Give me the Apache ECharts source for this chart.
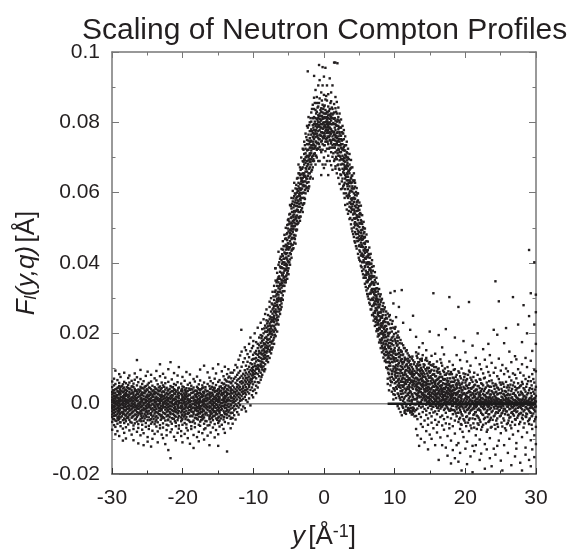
<!DOCTYPE html>
<html><head><meta charset="utf-8">
<style>html,body{margin:0;padding:0;background:#fff}#c{width:571px;height:550px}</style>
<script src="https://cdn.jsdelivr.net/npm/echarts@6/dist/echarts.min.js"></script>
</head><body><div id="c"></div>
<script>
const xTickLabels=['-30','-20','-10','0','10','20','30'];
const yTickLabels=['-0.02','0.0','0.02','0.04','0.06','0.08','0.1'];
const chartTitle='Scaling of Neutron Compton Profiles';
// each row: y [1/A], then F values in units of 1e-4 A
const leftTailRows=[
[-29.97,-52,-38,-31,-22,-14,-9,-3,4,11,18,26,33,47,63,-74],
[-29.71,-61,-44,-27,-18,-6,2,7,15,22,29,38,52,71,-35,-11],
[-29.52,-48,-33,-24,-16,-8,-1,5,13,20,31,41,56,-66,94,-87],
[-29.23,-57,-41,-29,-12,-4,3,9,17,24,36,45,67,-78,-20],
[-28.98,-43,-36,-21,-15,-7,1,8,12,27,34,50,59,84,-92],
[-28.79,-64,-39,-26,-11,-3,6,10,19,28,37,48,76,-53],
[-28.46,-47,-30,-23,-13,-5,4,14,21,32,43,55,-71,-105],
[-28.27,-55,-42,-28,-17,-9,0,7,16,25,35,46,62,88,-83],
[-28.03,-50,-34,-19,-10,-2,5,11,23,30,39,58,-67,-99],
[-27.71,-59,-37,-25,-14,-6,2,9,18,26,44,53,73,-40],
[-27.54,-46,-32,-20,-12,-3,6,13,22,33,41,60,80,-76],
[-27.22,-54,-40,-27,-16,-7,1,10,17,29,38,49,65,-88],
[-26.96,-62,-35,-22,-9,-1,8,15,24,31,47,57,-72,-104],
[-26.78,-45,-31,-18,-11,-4,3,12,20,36,42,68,86,-56],
[-26.47,-51,-38,-24,-13,-5,7,16,27,34,52,75,124,-80],
[-26.28,-58,-33,-26,-15,-8,0,9,19,28,40,61,-69,-113],
[-25.97,-43,-29,-21,-10,-2,4,14,23,37,48,70,96,-90],
[-25.73,-60,-41,-28,-17,-6,6,11,25,32,45,56,-74],
[-25.53,-49,-36,-19,-12,-3,2,13,21,30,43,64,-84,-118],
[-25.22,-55,-34,-23,-14,-7,5,10,18,35,50,79,-66],
[-24.96,-47,-30,-25,-11,-1,8,17,26,39,54,91,-95,-108],
[-24.79,-63,-39,-20,-9,-4,3,12,22,33,46,59,-72],
[-24.47,-44,-32,-27,-16,-5,7,15,29,41,63,82,-57,-122],
[-24.28,-52,-37,-22,-13,0,9,19,24,36,51,-77,-100],
[-23.97,-58,-28,-18,-10,-6,4,11,27,34,47,72,-86],
[-23.72,-46,-35,-24,-15,-2,6,14,20,31,42,66,93,-65],
[-23.53,-53,-40,-26,-8,-3,10,16,28,38,55,-79,-110],
[-23.21,-61,-31,-21,-12,1,5,13,23,37,49,78,112,-70],
[-22.97,-42,-33,-19,-14,-7,8,18,25,32,44,60,-88],
[-22.78,-56,-38,-25,-11,-4,2,12,21,35,52,85,-68,-98],
[-22.46,-48,-29,-17,-9,0,7,15,26,40,58,74,-115],
[-22.27,-60,-36,-23,-13,-5,3,11,19,30,45,-75,-90],
[-22.03,-45,-34,-20,-10,-2,9,16,27,39,62,98,-62,-132],
[-21.72,-51,-30,-26,-15,-6,4,13,22,33,50,118,-81,-155],
[-21.54,-57,-41,-18,-8,1,6,17,24,36,47,69,-73],
[-21.22,-43,-32,-22,-12,-3,10,14,29,41,56,87,-94],
[-20.97,-54,-37,-24,-16,-1,5,12,20,34,53,-64,-104],
[-20.72,-47,-28,-19,-9,-4,8,18,26,38,61,80,-83],
[-20.54,-62,-35,-21,-11,2,7,15,23,31,46,104,-71],
[-20.21,-50,-39,-25,-13,-6,3,11,28,37,57,-78,-92],
[-20.03,-44,-31,-17,-10,0,9,16,21,35,49,76,-60,-110],
[-19.72,-55,-33,-23,-14,-5,4,13,25,40,65,-86],
[-19.47,-59,-38,-20,-8,-2,6,19,27,32,44,90,-69],
[-19.28,-46,-29,-26,-12,1,10,14,22,36,54,-76,-98],
[-18.97,-52,-36,-18,-9,-3,5,12,24,39,59,83,-114],
[-18.78,-64,-34,-22,-15,-7,7,17,30,42,51,-72],
[-18.46,-48,-30,-24,-11,0,8,15,20,33,46,70,-89,-126],
[-18.27,-56,-40,-19,-13,-4,3,11,26,37,63,-67],
[-17.97,-43,-32,-21,-10,2,9,18,28,35,48,77,-95],
[-17.72,-60,-37,-25,-6,-1,6,13,23,41,55,-80,-107],
[-17.53,-51,-28,-17,-12,4,10,16,31,38,66,97,-63],
[-17.22,-45,-35,-23,-14,-5,5,19,25,44,52,-84],
[-16.97,-57,-39,-20,-8,1,7,12,29,34,60,108,-73,-102],
[-16.78,-49,-31,-26,-11,-3,8,15,22,40,47,-70],
[-16.47,-62,-33,-18,-9,0,11,17,27,36,56,89,-91],
[-16.21,-44,-38,-22,-13,-6,4,14,24,32,50,74,-61,-118],
[-16.04,-53,-29,-24,-10,2,9,20,30,43,64,-82],
[-15.72,-47,-36,-19,-15,-2,6,13,26,39,58,100,-68],
[-15.47,-58,-34,-21,-7,3,12,18,33,45,71,-96],
[-15.28,-42,-30,-25,-12,-1,8,16,23,37,53,86,-75],
[-14.97,-55,-40,-17,-9,5,10,21,28,41,62,112,-87,-120],
[-14.78,-48,-27,-22,-4,7,14,19,35,48,67,-65],
[-14.46,-60,-33,-15,-6,2,11,24,31,44,59,92],
[-14.22,-45,-37,-20,-8,4,13,18,27,40,55,78,-72],
[-14.03,-52,-29,-12,-3,6,15,22,34,47,69,105,-83],
[-13.72,-40,-31,-18,-5,8,12,25,30,42,63,84,-136],
[-13.53,-56,-24,-10,0,9,17,28,38,51,74,98],
[-13.21,-43,-27,-14,-2,7,19,23,36,46,60,88,-70]
];
const leftCoreRows=[
[-29.85,-27,12,-44,31,-8,38,-19,6],[-29.38,7,-34,24,-15,42,-49,-2,19],[-29.1,-25,33,-10,16,-38,46,3,-46],
[-28.88,14,-29,41,-17,26,-4,-53,30],[-28.6,-36,9,-12,35,-24,18,50,-1],[-28.12,21,-45,-7,40,-20,13,-33,28],
[-27.88,-15,36,-41,4,24,-28,11,47],[-27.4,-30,15,-6,43,-52,28,-18,8],[-27.1,32,-12,-37,19,-3,49,-24,6],
[-26.62,-19,25,-43,10,38,-8,-31,17],[-26.12,40,-26,3,-48,21,-14,33,-5],[-25.85,-9,16,-35,44,-22,27,-50,7],
[-25.38,30,-42,12,-16,37,-29,2,48],[-25.1,-21,8,-38,23,-5,41,-13,19],[-24.62,14,-47,32,-11,-28,6,45,24],
[-24.12,-34,20,-3,38,-17,-44,10,29],[-23.85,43,-23,5,-39,16,-9,31,-51],[-23.38,-13,26,-30,8,46,-20,35,-2],
[-23.1,18,-36,41,-6,24,-46,11,-16],[-22.62,-27,4,33,-41,15,-10,48,22],[-22.12,37,-18,-32,9,-47,26,-1,13],
[-21.85,-6,30,-24,42,-38,17,5,-14],[-21.38,23,-43,10,-20,35,-2,-29,47],[-21.1,-35,14,-9,28,-50,39,1,-17],
[-20.62,6,-26,44,-40,19,-12,31,-4],[-20.12,-21,36,-33,12,-7,24,-46,41],[-19.85,29,-15,3,-37,47,-25,9,18],
[-19.6,-44,21,-11,34,-3,-30,14,38],[-19.1,10,-27,43,-19,-48,5,26,-8],[-18.62,-36,17,-1,31,-23,40,-12,-52],
[-18.12,25,-41,8,-16,37,-5,-32,20],[-17.85,-13,44,-29,13,-45,2,30,-20],[-17.38,-7,19,-38,27,41,-24,6,-47],
[-17.1,33,-18,-42,11,-2,46,-31,22],[-16.62,-26,7,35,-14,-50,24,-6,15],[-16.12,18,-34,42,-21,4,-9,29,-44],
[-15.85,-16,31,-28,9,48,-40,-3,23],[-15.6,38,-11,-35,20,-24,3,45,-7],[-15.12,-30,12,-46,28,-4,36,-19,8],
[-14.88,41,-21,6,-37,16,30,-13,-50],[-14.6,-9,26,-33,49,-18,2,37,-42],[-14.12,15,-25,43,-6,32,-38,9,57],
[-13.85,-22,35,4,-30,52,-12,20,66],[-13.4,28,-35,46,10,-8,62,-19,77],[-13.12,-26,41,-5,16,58,-40,30,72]
];
const peakRows=[
[-12.93,-41,17,3,38,-12,64,29,-26,88,9,51,-57],
[-12.71,22,-33,46,71,-7,13,95,-19,34,5],
[-12.52,8,41,-45,27,59,-15,110,33,-2,76,18],
[-12.28,55,12,-24,37,82,-6,24,47,103,66],
[-12.09,-31,43,19,70,2,31,125,52,-11,88,28],
[-11.87,61,15,-4,39,93,26,48,74,8,137],
[-11.66,33,-17,57,105,22,79,41,10,64,148],
[-11.43,72,28,49,-8,35,118,85,14,60,44],
[-11.21,19,66,95,38,-13,54,129,80,31,160],
[-11.04,47,88,10,61,152,26,73,39,108,-22],
[-10.82,83,34,56,119,5,67,42,98,141,74],
[-10.6,29,90,62,170,48,105,77,15,132,53],
[-10.41,71,115,39,58,96,-5,84,149,66,188],
[-10.2,101,46,80,63,125,24,92,158,70,112],
[-10.03,55,127,88,36,74,164,104,96,18,139,82],
[-9.81,114,62,93,145,40,107,76,200,128,85],
[-9.6,72,130,98,51,120,175,87,106,150,30,142],
[-9.38,139,84,110,61,158,99,216,124,46,170,103],
[-9.17,97,150,78,122,188,108,133,60,166,92,143],
[-8.96,130,173,88,145,105,230,120,68,160,195,112],
[-8.74,151,103,178,126,82,212,140,164,118,192,97],
[-8.55,116,172,143,200,95,155,128,240,182,135,106],
[-8.33,187,130,160,112,222,147,205,170,98,138,255],
[-8.14,145,204,175,122,237,158,190,134,268,165,216],
[-7.92,172,220,135,195,156,252,210,182,118,234,162],
[-7.7,228,165,198,148,275,212,184,240,130,206,290],
[-7.49,190,245,158,220,205,300,176,262,232,143,214],
[-7.28,256,210,178,282,234,196,318,245,160,222,268],
[-7.06,220,295,188,262,243,335,205,278,170,250,232],
[-6.85,305,240,210,278,258,350,225,322,192,268,385],
[-6.63,262,335,228,298,280,372,245,312,205,350,288],
[-6.44,345,270,310,248,395,292,328,225,360,302,432],
[-6.22,318,280,375,340,255,412,298,355,268,390,325],
[-6.01,352,300,408,275,372,330,440,315,388,285,345],
[-5.83,385,320,295,420,350,462,335,402,365,308,438],
[-5.6,412,345,448,378,320,395,480,360,430,335,402],
[-5.41,362,438,398,345,470,415,500,380,425,352,452],
[-5.2,465,395,372,428,508,448,410,485,385,440,355],
[-5.02,420,490,385,455,525,438,402,472,510,368,445],
[-4.81,512,445,410,478,395,540,462,495,428,565,485],
[-4.6,468,530,435,498,415,555,482,515,450,585,505],
[-4.42,545,495,440,520,470,575,505,452,535,488,605],
[-4.21,480,565,522,458,590,505,538,472,548,628,515],
[-4.03,595,512,548,478,532,612,562,495,578,525,455],
[-3.82,535,610,495,570,520,640,552,588,510,600,562],
[-3.61,628,545,590,515,575,655,605,530,618,560,680],
[-3.4,560,650,600,532,625,582,672,545,612,590,520],
[-3.22,668,585,625,550,610,700,640,570,652,598,632],
[-3.01,600,690,565,642,620,725,655,585,672,630,545],
[-2.8,655,710,585,632,680,600,745,645,618,695,570],
[-2.61,725,620,670,598,700,645,768,685,632,712,660],
[-2.4,640,738,690,615,720,660,790,705,628,750,675],
[-2.19,765,680,722,630,700,655,815,738,692,748,612],
[-2.01,695,755,640,728,672,800,712,745,655,775,688,708],
[-1.8,780,720,660,748,695,828,735,765,680,802,712],
[-1.59,705,792,745,672,770,725,850,758,690,812,735,640],
[-1.41,815,735,690,778,752,710,870,795,725,838,765],
[-1.2,758,835,705,790,732,775,892,745,812,680,768],
[-1.02,795,722,855,768,740,810,700,785,760,872,725,830],
[-0.81,742,820,775,905,800,725,788,755,845,690,812],
[-0.62,868,765,800,730,825,778,690,752,810,788,920],
[-0.39,805,745,885,772,830,795,715,762,840,650,818,785],
[-0.2,758,850,810,722,782,905,795,738,828,770,680,815],
[-0.01,825,770,735,800,878,755,812,700,788,845,762,930,670],
[0.2,790,835,718,775,812,745,865,800,760,680,825,785,955],
[0.42,745,808,862,785,725,830,770,905,795,690,815,755],
[0.6,820,760,798,705,845,778,738,812,790,880,650,770],
[0.81,772,838,800,750,690,822,785,925,762,810,728],
[1.01,805,745,860,780,715,825,768,795,740,885,678,815],
[1.2,735,795,838,760,702,812,775,905,750,822,665],
[1.43,828,772,728,795,852,750,690,810,765,970,738],
[1.62,758,805,715,778,840,735,675,795,748,872,668],
[1.81,790,720,825,755,695,770,858,738,802,655,745],
[2.03,705,780,748,815,680,760,725,842,642,790,735],
[2.2,768,692,735,800,665,745,825,715,772,625,705],
[2.41,680,752,715,785,650,728,808,695,762,610,738],
[2.62,738,668,705,770,640,722,682,790,612,750,695],
[2.81,655,720,680,752,622,700,778,665,730,598,690],
[3,708,640,675,735,610,688,760,650,720,565,668],
[3.22,625,692,655,715,590,668,745,635,700,552,678],
[3.4,675,610,645,725,585,660,625,700,540,635,592],
[3.61,590,655,618,680,560,635,710,600,665,525,572],
[3.82,642,568,605,671,545,627,583,693,510,640,557],
[4.01,552,618,583,649,522,603,672,561,629,490,584],
[4.23,598,527,574,633,501,586,541,655,474,612,552],
[4.4,516,583,541,617,488,562,628,526,594,458,507],
[4.62,566,497,536,592,471,548,613,512,573,441,528],
[4.81,483,549,506,578,463,522,598,492,556,426,472],
[5.01,531,466,502,551,436,514,572,477,539,409,451],
[5.22,446,513,471,538,421,493,563,458,522,392,486],
[5.4,494,427,466,511,402,476,536,448,494,377,421],
[5.6,408,474,436,499,382,456,517,422,484,358,403],
[5.79,454,391,429,474,365,441,498,414,458,341,388],
[6.01,371,436,401,462,347,418,481,396,436,322,366],
[6.2,416,351,389,437,328,402,461,374,421,305,348],
[6.41,334,396,361,424,312,381,444,356,401,287,334],
[6.6,376,316,354,398,295,364,426,339,381,268,313],
[6.8,298,359,326,389,277,346,408,322,364,252,298],
[7.02,339,281,316,361,258,326,391,302,344,236,279],
[7.2,264,322,291,352,241,309,374,284,326,221,258],
[7.42,304,246,282,328,224,292,358,269,308,206,244],
[7.61,231,289,258,319,208,274,341,252,291,191,226],
[7.8,274,216,249,296,194,259,326,236,276,174,212],
[8.02,201,259,228,289,178,244,311,222,261,158,199],
[8.2,244,186,222,268,164,229,298,206,246,146,182],
[8.41,174,232,201,262,151,216,286,192,234,131,169],
[8.6,219,161,196,241,138,204,274,179,221,121,156],
[8.8,138,206,171,244,118,189,262,155,221,103,147],
[9.02,201,129,166,231,98,182,256,142,194,71,118,56],
[9.2,119,173,158,226,107,160,248,131,199,84,144,38],
[9.4,181,97,139,214,66,163,238,127,172,52,108,315],
[9.6,92,170,119,205,84,137,227,148,188,34,76,61],
[9.82,143,71,133,191,44,128,216,106,166,27,98,285,12],
[10.01,83,158,104,183,37,120,213,91,149,58,25,129],
[10.2,129,61,110,172,74,95,246,139,47,16,88,201],
[10.42,64,141,87,168,29,123,194,106,52,-7,79,178],
[10.6,133,48,97,159,22,116,188,71,144,-14,58,275],
[10.83,45,122,78,152,11,93,181,64,107,-24,36,139],
[11.01,118,36,87,148,-3,69,171,52,127,-33,104,19],
[11.2,29,99,62,140,8,81,166,48,118,-12,74,230],
[11.41,105,18,71,131,-21,43,158,88,57,-26,124,3],
[11.6,22,83,56,126,-8,96,149,38,109,-29,67],
[11.83,94,9,47,121,-20,62,143,77,28,-18,106],
[12,15,72,41,117,-17,89,137,53,101,-14,31],
[12.2,86,-4,58,109,-25,36,133,68,20,-20,97,210],
[12.42,6,66,27,104,-31,78,128,46,90,-24,11],
[12.6,75,-11,42,99,-18,55,123,19,62,-30,85,250],
[12.81,-2,57,30,93,-22,71,118,13,49,-36,84]
];
const flankExtraRows=[
[-8.85,141,108,186,162,76],[-8.45,128,214,168,151,92],[-8.05,183,126,228,149,205],[-7.65,248,152,202,176,222],
[-7.4,171,285,238,198,154],[-7.15,272,205,182,305,238],[-6.95,214,262,318,196,285],[-6.72,345,252,291,236,310],
[-6.53,275,355,318,238,296],[-6.33,298,362,262,402,334],[-6.12,386,292,338,268,418],[-5.92,342,425,365,296,398],
[-5.72,448,372,335,412,358],[-5.5,395,468,352,428,384],[-5.3,415,482,365,446,392],[-5.11,498,405,456,378,522],
[-4.91,442,518,475,402,538],[-4.7,528,455,492,425,562],[-4.52,472,568,512,438,545],[-4.32,558,498,442,530,584],
[-4.12,505,598,468,546,572],[-3.92,622,528,492,584,548],[-3.72,578,512,642,550,604],[-3.5,528,612,568,655,596],
[-3.31,642,578,532,608,665],[-3.11,598,668,556,635,612],[-2.9,688,622,568,650,722],[-2.7,608,692,648,735,582],
[-2.5,758,668,612,702,640],[-2.29,722,648,785,682,605],[-2.1,668,738,792,618,705],[-1.9,745,688,812,728,645],
[-1.7,702,775,728,838,665],[-1.5,785,738,695,812,758],[-1.3,728,802,768,855,712],[-1.11,778,745,825,705,795],
[-0.91,805,762,725,842,788],[-0.71,752,818,792,738,855],[-0.5,835,785,762,808,722],[-0.3,772,818,748,795,862],
[-0.1,798,755,838,782,812],[0.1,815,768,792,848,735],[0.31,778,825,752,802,875],[0.51,802,745,828,775,812],
[0.71,758,795,832,725,785],[0.91,818,782,748,855,768],[1.11,775,812,728,795,842],[1.32,752,798,825,712,772],
[1.52,785,728,812,695,765],[1.71,738,792,702,830,762],[1.92,772,712,808,745,678],[2.12,722,785,668,752,805],
[2.32,762,702,735,652,785],[2.52,695,748,725,632,772],[2.72,725,658,768,695,618],[2.92,672,735,628,698,585],
[3.12,705,645,598,672,735],[3.32,618,685,568,652,712],[3.52,662,595,628,548,695],[3.72,605,572,668,632,528],
[3.92,648,552,612,498,578],[4.12,538,612,568,635,482],[4.32,582,512,635,548,462],[4.52,528,602,482,558,448],
[4.72,575,462,508,532,598],[4.92,448,532,488,562,415],[5.12,512,405,468,542,432],[5.32,478,425,518,388,452],
[5.52,445,502,368,418,468],[5.71,402,472,358,435,488],[5.91,445,358,412,378,332],[6.11,398,345,432,312,372],
[6.31,368,425,298,352,402],[6.51,338,385,415,282,362],[6.71,372,268,398,322,342],[6.91,345,252,378,295,318],
[7.11,312,362,248,285,338],[7.31,272,345,232,298,318],[7.51,298,238,328,265,212],[7.71,258,312,198,282,225],
[7.91,282,182,238,305,212],[8.11,218,268,172,248,295],[8.31,198,278,228,158,252],[8.51,235,142,268,188,212],
[8.71,168,252,125,208,232],[8.91,212,102,178,242,148],[9.11,162,228,88,135,192],[9.31,202,115,148,252,74],
[9.51,128,182,62,215,155],[9.71,178,92,235,118,148],[9.91,68,125,198,152,42],[10.11,142,78,178,102,218],
[10.31,98,165,42,122,188],[10.51,152,68,112,28,205],[10.71,86,132,52,172,16],[10.91,125,62,148,28,96],
[11.11,72,138,38,112,-8],[11.31,52,118,82,158,14],[11.51,92,32,128,62,-18],[11.71,112,42,78,152,-2],
[11.91,68,24,102,128,-12],[12.11,48,92,8,122,72],[12.31,112,32,62,-12,85],[12.51,24,92,52,134,-20],[12.71,82,12,64,112,-14]
];
const rightTailRows=[
[13.03,41,-18,88,12,-72,63,28,146,-2,107,52,-35,190,74],
[13.22,-44,26,95,6,57,-90,130,38,-14,71,17,112,48],
[13.46,81,3,44,-29,118,60,-120,22,97,-6,36,160,68],
[13.71,-11,54,20,125,-58,33,86,5,70,-38,102,42,-100],
[13.97,66,-24,15,92,30,-8,48,138,-66,78,25,56,172],
[14.23,9,40,-48,76,-15,110,26,62,-110,84,18,35],
[14.47,52,-3,94,-32,22,70,-78,130,10,44,-20,60,152],
[14.72,-42,28,64,5,100,-12,38,-130,80,16,48,-60],
[14.96,74,13,-27,42,-6,88,24,118,55,-88,2,34,205],
[15.22,-16,58,30,-54,96,8,44,-36,72,20,-100,136],
[15.48,38,-9,66,18,-25,50,84,-70,4,28,112,314],
[15.73,12,-46,34,78,-2,56,-22,24,142,-118,62,8],
[15.99,48,-30,6,92,26,-12,68,15,-82,40,120,-60],
[16.23,-6,36,-52,58,16,100,-20,72,3,30,195,-160],
[16.47,22,64,-14,42,-38,8,84,-96,50,-4,126],
[16.72,-34,10,52,-8,28,76,-62,18,108,38,-118,160],
[16.98,44,-18,2,68,-44,24,90,12,-74,34,140],
[17.24,-26,56,14,-4,82,30,-56,6,48,212,-125],
[17.48,18,-38,72,26,-12,44,-92,4,104,60,-148],
[17.74,-2,36,-58,10,56,-20,28,84,-70,120,303],
[17.97,62,-14,22,-42,6,46,-105,16,90,34,-170],
[18.23,-30,12,52,-6,74,24,-64,38,8,110,-132],
[18.52,40,-22,2,66,-48,16,30,-85,98,188,-155],
[18.77,-10,26,-36,48,6,82,-16,58,12,138,-118],
[19.02,20,-52,34,-4,64,-26,10,-112,92,275,-165],
[19.26,-18,44,4,-40,24,78,-8,52,-72,124,-140],
[19.47,32,-6,14,-30,56,-60,22,100,40,-190],
[19.74,-44,8,68,-14,28,-2,48,-95,86,178],
[20.01,16,-24,42,2,-54,84,-10,26,60,146,-128],
[20.24,-4,30,-36,12,70,-18,-108,50,20,120,-172],
[20.52,36,-12,6,54,-28,18,-78,94,-46,289],
[20.73,-20,24,-2,44,-62,10,74,-8,32,108,-150],
[21.02,8,-42,30,-16,62,2,-120,46,16,165,-195],
[21.26,-30,18,-6,52,22,-68,88,-14,36,-135],
[21.48,40,-10,4,-24,66,12,-90,28,130,-118],
[21.74,-36,14,-2,32,-56,50,6,82,-18,200],
[22.03,22,-18,2,44,-46,10,70,-102,30,112,-160],
[22.24,-8,36,-26,6,58,-74,16,98,-142],
[22.52,14,-32,52,0,-12,28,86,-60,6,155],
[22.76,-14,4,42,-40,24,-115,10,74,125,-185],
[23.03,30,-22,8,60,-4,18,-80,105,-130],
[23.26,-10,2,34,-52,14,90,-30,50,170],
[23.47,18,-46,6,48,-16,26,-98,80,0,138,-155],
[23.72,-24,8,36,-4,66,-66,14,116,-178],
[24.02,2,-36,28,-10,50,12,-128,88,210],
[24.26,-6,18,-28,56,4,-72,32,102,348,-145],
[24.52,26,-14,8,-42,46,1,-58,78,196,-120],
[24.74,-20,4,40,-2,70,12,-105,128,291],
[25.02,10,-34,30,-8,54,2,-84,94,-162],
[25.24,-26,18,-4,60,6,-65,36,110,-190],
[25.49,26,-14,0,48,-48,10,-118,84,172],
[25.76,-22,6,34,-2,-76,16,62,100,215],
[26.02,12,-32,28,-9,52,2,-55,92,-140],
[26.23,-16,4,46,-40,8,24,-100,76,148],
[26.51,16,-6,36,-26,4,66,-70,118,-175],
[26.74,-30,12,2,52,-11,28,-88,86,303],
[27.03,24,-18,-2,48,-44,10,-60,82,135,-150],
[27.22,-5,40,6,-24,18,72,-112,126,-128],
[27.47,14,-34,32,2,-12,58,-78,98,225],
[27.77,-28,26,4,-8,50,12,-52,88,-168],
[28.02,10,-16,30,-1,62,-40,-95,112,175,-190],
[28.24,-22,6,44,-4,20,80,-68,280],
[28.52,14,-36,2,34,-10,70,-125,130,-145],
[28.73,-14,26,8,-30,56,-2,-82,104,200],
[29.02,12,-20,38,0,-46,76,-58,249,437,-160],
[29.26,-6,30,4,-26,64,16,-104,122,314,-178],
[29.47,10,-12,42,-1,-34,84,-72,150,-130],
[29.76,-18,28,2,-50,14,60,-90,96,225,402,-152],
[29.98,6,-8,48,22,-38,92,-66,170,260,310,-115]
];
const rightCoreRows=[
[13.12,72,24,101,48,55,136,38,88,14],[13.35,108,84,46,118,21,66,30,142,58],[13.6,58,110,18,92,78,34,94,126,42],
[13.84,28,72,122,96,50,10,128,64,84],[14.1,88,104,42,24,62,112,20,76,52],[14.35,34,10,76,52,14,98,124,60,40],
[14.6,66,18,36,44,122,4,86,102,56],[14.84,18,56,30,102,8,74,92,46,114],[15.1,92,12,22,40,64,24,110,78,-6],
[15.35,48,32,6,82,18,108,-8,58,70],[15.6,14,62,26,94,48,36,2,84,104],[15.86,78,20,-6,50,28,104,10,66,40],
[16.1,4,44,-12,70,30,18,88,56,98],[16.35,62,14,26,38,90,-2,50,76,8],[16.6,-10,28,76,6,52,34,116,44,64],
[16.85,34,42,58,16,-4,94,22,70,10],[17.1,22,8,42,70,56,26,100,-14,82],[17.36,54,-8,20,86,32,2,36,66,12],
[17.6,40,30,6,64,-16,44,92,18,52],[17.85,12,72,24,40,50,2,26,-20,84],[18.1,-6,50,20,36,84,8,62,28,-18],
[18.36,30,-18,62,4,46,96,16,38,72],[18.64,-28,10,42,76,-8,24,54,30,4],[18.9,54,-4,28,32,14,68,-26,44,8],
[19.14,-12,36,2,58,-44,20,88],[19.36,8,-24,46,16,72,-58,-2],[19.6,-34,26,60,-10,4,38,-80],
[19.86,44,-20,12,76,-48,30,-2],[20.12,-8,22,52,-38,6,66,-64],[20.38,32,-16,2,44,-54,18,82],
[20.62,-26,12,58,-6,34,-42,90],[20.86,6,42,-18,24,-70,68,-2],[21.14,-12,28,2,48,-32,76,-56],
[21.38,20,-24,54,8,-44,36,-4],[21.62,-6,14,40,-34,62,-72,4],[21.88,26,-14,6,50,-40,18,-60],
[22.14,-20,10,34,-4,68,-52,24],[22.38,4,42,-30,16,-8,56,-66],[22.64,-16,24,2,-44,36,72,-6],
[22.9,12,-26,46,6,-56,20,-2],[23.14,-8,30,-18,4,52,-38,-74],[23.38,18,-30,8,38,-6,64,-50],
[23.6,-12,2,26,-40,14,48,-68],[23.86,6,-20,32,-2,58,-46,18],[24.14,-14,22,-34,8,42,-60,0],
[24.38,10,-6,34,-24,52,-48,16],[24.62,-2,-26,14,44,-10,-66,28],[24.88,6,-18,30,-36,2,60,-8],
[25.12,-12,20,-28,4,42,-54,8],[25.38,2,-6,28,-42,14,56,-20],[25.62,-16,10,36,-30,0,-70,22],
[25.88,4,-8,24,-22,46,-58,12],[26.12,-4,16,-32,2,38,-48,10],[26.38,8,-14,26,-2,54,-38,-62],
[26.62,-10,4,-24,18,42,-52,0],[26.88,2,-6,30,-34,10,60,-20],[27.12,-14,8,-2,22,-46,38,4],
[27.36,6,-22,16,44,-4,-40,1],[27.62,-8,2,24,-30,10,-58,46],[27.88,3,-12,34,-26,6,52,-4],
[28.12,-6,14,-32,2,26,-44,56],[28.38,4,-18,10,-2,40,-56,22],[28.62,-10,18,2,-28,48,-38,6],
[28.88,-3,8,-16,30,-50,64,1],[29.12,5,-24,16,-4,44,-42,-12],[29.38,-8,22,1,-36,10,52,-60],
[29.62,3,-14,34,-4,-28,70,14],[29.88,-10,16,-2,40,-44,8,-22]
];
const topOutliers=[[-2.3,945],[-1.4,932],[-0.7,963],[-0.2,957],[1.6,970],[1.9,968],[10,320],[11,323],[-6.9,385],[-10,178],[-11.7,210]];
const zeroLine=[[-30,0],[30,0]];
const zeroLineDense=[[9,0],[30,0]];

function flatten(rows){
  const out=[];
  rows.forEach(r=>{for(let i=1;i<r.length;i++)out.push([r[0],r[i]/10000]);});
  return out;
}
const points=flatten(leftTailRows).concat(flatten(leftCoreRows),flatten(peakRows),flatten(flankExtraRows),flatten(rightTailRows),flatten(rightCoreRows),topOutliers.map(p=>[p[0],p[1]/10000]));
const font='"Liberation Sans",Arial,sans-serif';
const ink='#231f20';
const chart=echarts.init(document.getElementById('c'),null,{renderer:'canvas'});
const frameX=(pos,color,show)=>({type:'value',position:pos,min:-30,max:30,interval:10,
  axisLine:{onZero:false,lineStyle:{color:color,width:1.5}},
  axisTick:{inside:true,length:6,lineStyle:{color:color,width:1}},
  minorTick:{show:true,splitNumber:2,length:3.5,lineStyle:{color:color,width:1}},
  splitLine:{show:false},
  axisLabel:{show:show,color:ink,fontFamily:font,fontSize:21,margin:14,formatter:v=>xTickLabels[Math.round((v+30)/10)]}});
const frameY=(pos,color,show)=>({type:'value',position:pos,min:-0.02,max:0.1,interval:0.02,
  axisLine:{onZero:false,lineStyle:{color:color,width:1.5}},
  axisTick:{inside:true,length:7,lineStyle:{color:color,width:1}},
  minorTick:{show:true,splitNumber:2,length:3.5,lineStyle:{color:color,width:1}},
  splitLine:{show:false},
  axisLabel:{show:show,color:ink,fontFamily:font,fontSize:21,margin:12,formatter:v=>yTickLabels[Math.round((v+0.02)/0.02)]}});
const xMain=frameX('bottom','#333',true);
xMain.name='{i|y} {t|[Å}{s|-1}{t|]}';
xMain.nameLocation='middle';xMain.nameGap=49;
xMain.nameTextStyle={rich:{
  i:{fontFamily:font,fontSize:26,fontStyle:'italic',color:ink},
  t:{fontFamily:font,fontSize:26,color:ink},
  s:{fontFamily:font,fontSize:18,color:ink,verticalAlign:'top',padding:[0,0,10,0]}}};
const yMain=frameY('left','#777',true);
yMain.name='{i|F}{b|l}{i|(y,q)} {t|[Å]}';
yMain.nameLocation='middle';yMain.nameRotate=90;yMain.nameGap=72;
yMain.nameTextStyle={rich:{
  i:{fontFamily:font,fontSize:26,fontStyle:'italic',color:ink},
  t:{fontFamily:font,fontSize:26,color:ink},
  b:{fontFamily:font,fontSize:16,fontStyle:'italic',color:ink,verticalAlign:'bottom',padding:[10,0,0,0]}}};
chart.setOption({
  animation:false,backgroundColor:'#fff',
  title:{text:chartTitle,left:77,top:11,textStyle:{fontFamily:font,fontWeight:'normal',fontSize:30,color:ink}},
  grid:{left:112,right:35,top:52,bottom:76,containLabel:false,outerBoundsMode:'none'},
  xAxis:[xMain,frameX('top','#777',false)],
  yAxis:[yMain,frameY('right','#777',false)],
  series:[
    {type:'line',data:zeroLine,symbol:'none',silent:true,z:1,lineStyle:{color:'#888',width:1.5}},
    {type:'scatter',data:points,symbol:'rect',symbolSize:2.4,silent:true,z:2,itemStyle:{color:'#231f20',opacity:1},large:false},
    {type:'line',data:zeroLineDense,symbol:'none',silent:true,z:3,lineStyle:{color:'#1a1a1a',width:2.5}}
  ]
});
</script></body></html>
